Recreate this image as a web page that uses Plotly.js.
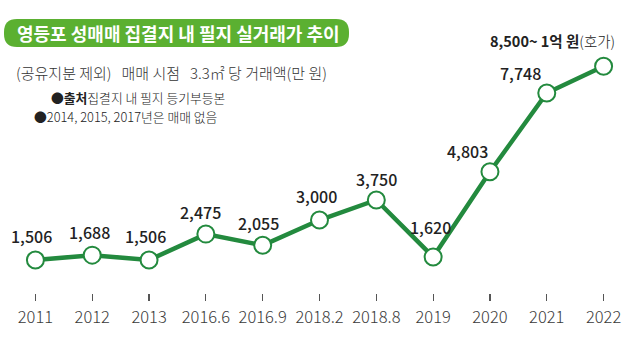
<!DOCTYPE html>
<html><head><meta charset="utf-8">
<script src="https://cdn.plot.ly/plotly-3.0.1.min.js"></script>
<style>html,body{margin:0;padding:0;background:#fff;}#chart{width:640px;height:341px;}</style>
</head><body><div id="chart"></div>
<script>
// ---- data ----
const categories = ['2011','2012','2013','2016.6','2016.9','2018.2','2018.8','2019','2020','2021','2022'];
const values = [1506, 1688, 1506, 2475, 2055, 3000, 3750, 1620, 4803, 7748, 8750];
const valueLabels = ['1,506','1,688','1,506','2,475','2,055','3,000','3,750','1,620','4,803','7,748','<b>8,500~ 1억 원</b><span style="font-weight:300">(호가)</span>'];
const titleText = '영등포 성매매 집결지 내 필지 실거래가 추이';
const subtitleText = '(공유지분 제외)   매매 시점   3.3㎡ 당 거래액(만 원)';
const note1 = '●<b>출처</b>집결지 내 필지 등기부등본';
const note2 = '●2014, 2015, 2017년은 매매 없음';

// label offsets (px) relative to markers
const labelDx = [-4,-3,-4,-5,-4,-3,0,-3,-22,-26,-51];
const labelDy = [24,23,24,22,22,24,21,30,21,20,26];

const W = 640, H = 341;
const M = {l:7, r:8, t:50, b:48};
const pw = W - M.l - M.r, ph = H - M.t - M.b;
const px = x => (x - M.l) / pw;
const py = y => (H - M.b - y) / ph;

const FONT = '"Noto Sans CJK KR", "Noto Sans", sans-serif';
const GREEN = '#238a3e';

const trace = {
  type: 'scatter', mode: 'lines+markers',
  x: categories, y: values,
  line: {color: GREEN, width: 4.5},
  marker: {size: 17, color: '#ffffff', line: {color: GREEN, width: 2}},
  hoverinfo: 'skip', cliponaxis: false
};

const annotations = categories.map((c, i) => ({
  x: i, y: values[i], xref: 'x', yref: 'y',
  text: valueLabels[i], showarrow: false,
  xshift: labelDx[i], yshift: labelDy[i],
  font: {family: FONT, size: i === 10 ? 14.5 : 16, color: '#222', weight: i === 10 ? 'normal' : 500},
  xanchor: 'center', yanchor: 'middle'
}));

annotations.push({xref:'paper', yref:'paper', x: px(178), y: py(33), text: '<b>'+titleText+'</b>',
  showarrow:false, xanchor:'center', yanchor:'middle', font:{family:FONT, size:18, color:'#ffffff'}});
annotations.push({xref:'paper', yref:'paper', x: px(14), y: py(72), text: subtitleText,
  showarrow:false, xanchor:'left', yanchor:'middle', font:{family:FONT, size:15, color:'#333', weight:300}});
annotations.push({xref:'paper', yref:'paper', x: px(49), y: py(97), text: note1,
  showarrow:false, xanchor:'left', yanchor:'middle', font:{family:FONT, size:12.8, color:'#222', weight:300}});
annotations.push({xref:'paper', yref:'paper', x: px(32), y: py(117), text: note2,
  showarrow:false, xanchor:'left', yanchor:'middle', font:{family:FONT, size:12.8, color:'#222', weight:300}});

function roundRect(x0, y0, x1, y1, r) {
  const X = v => px(v).toFixed(5), Y = v => py(v).toFixed(5);
  return `M ${X(x0+r)},${Y(y0)} L ${X(x1-r)},${Y(y0)} Q ${X(x1)},${Y(y0)} ${X(x1)},${Y(y0+r)} ` +
         `L ${X(x1)},${Y(y1-r)} Q ${X(x1)},${Y(y1)} ${X(x1-r)},${Y(y1)} L ${X(x0+r)},${Y(y1)} ` +
         `Q ${X(x0)},${Y(y1)} ${X(x0)},${Y(y1-r)} L ${X(x0)},${Y(y0+r)} Q ${X(x0)},${Y(y0)} ${X(x0+r)},${Y(y0)} Z`;
}

const layout = {
  width: W, height: H,
  margin: M,
  paper_bgcolor: '#ffffff', plot_bgcolor: '#ffffff',
  showlegend: false,
  font: {family: FONT},
  xaxis: {
    type: 'category', range: [-0.5, 10.5], showgrid: false, zeroline: false, showline: false,
    ticks: 'outside', ticklen: 7, tickwidth: 1.2, tickcolor: '#555',
    tickfont: {family: FONT, size: 16.5, color: '#3a3a3a', weight: 300}, ticklabelstandoff: 2, fixedrange: true
  },
  yaxis: {range: [273, 9355], visible: false, fixedrange: true},
  shapes: [{type:'path', xref:'paper', yref:'paper', path: roundRect(4, 19, 349, 47, 13),
    fillcolor:'#5bb031', line:{width:0}, layer:'below'}],
  annotations: annotations
};

Plotly.newPlot('chart', [trace], layout, {displayModeBar: false, staticPlot: true});
</script></body></html>
